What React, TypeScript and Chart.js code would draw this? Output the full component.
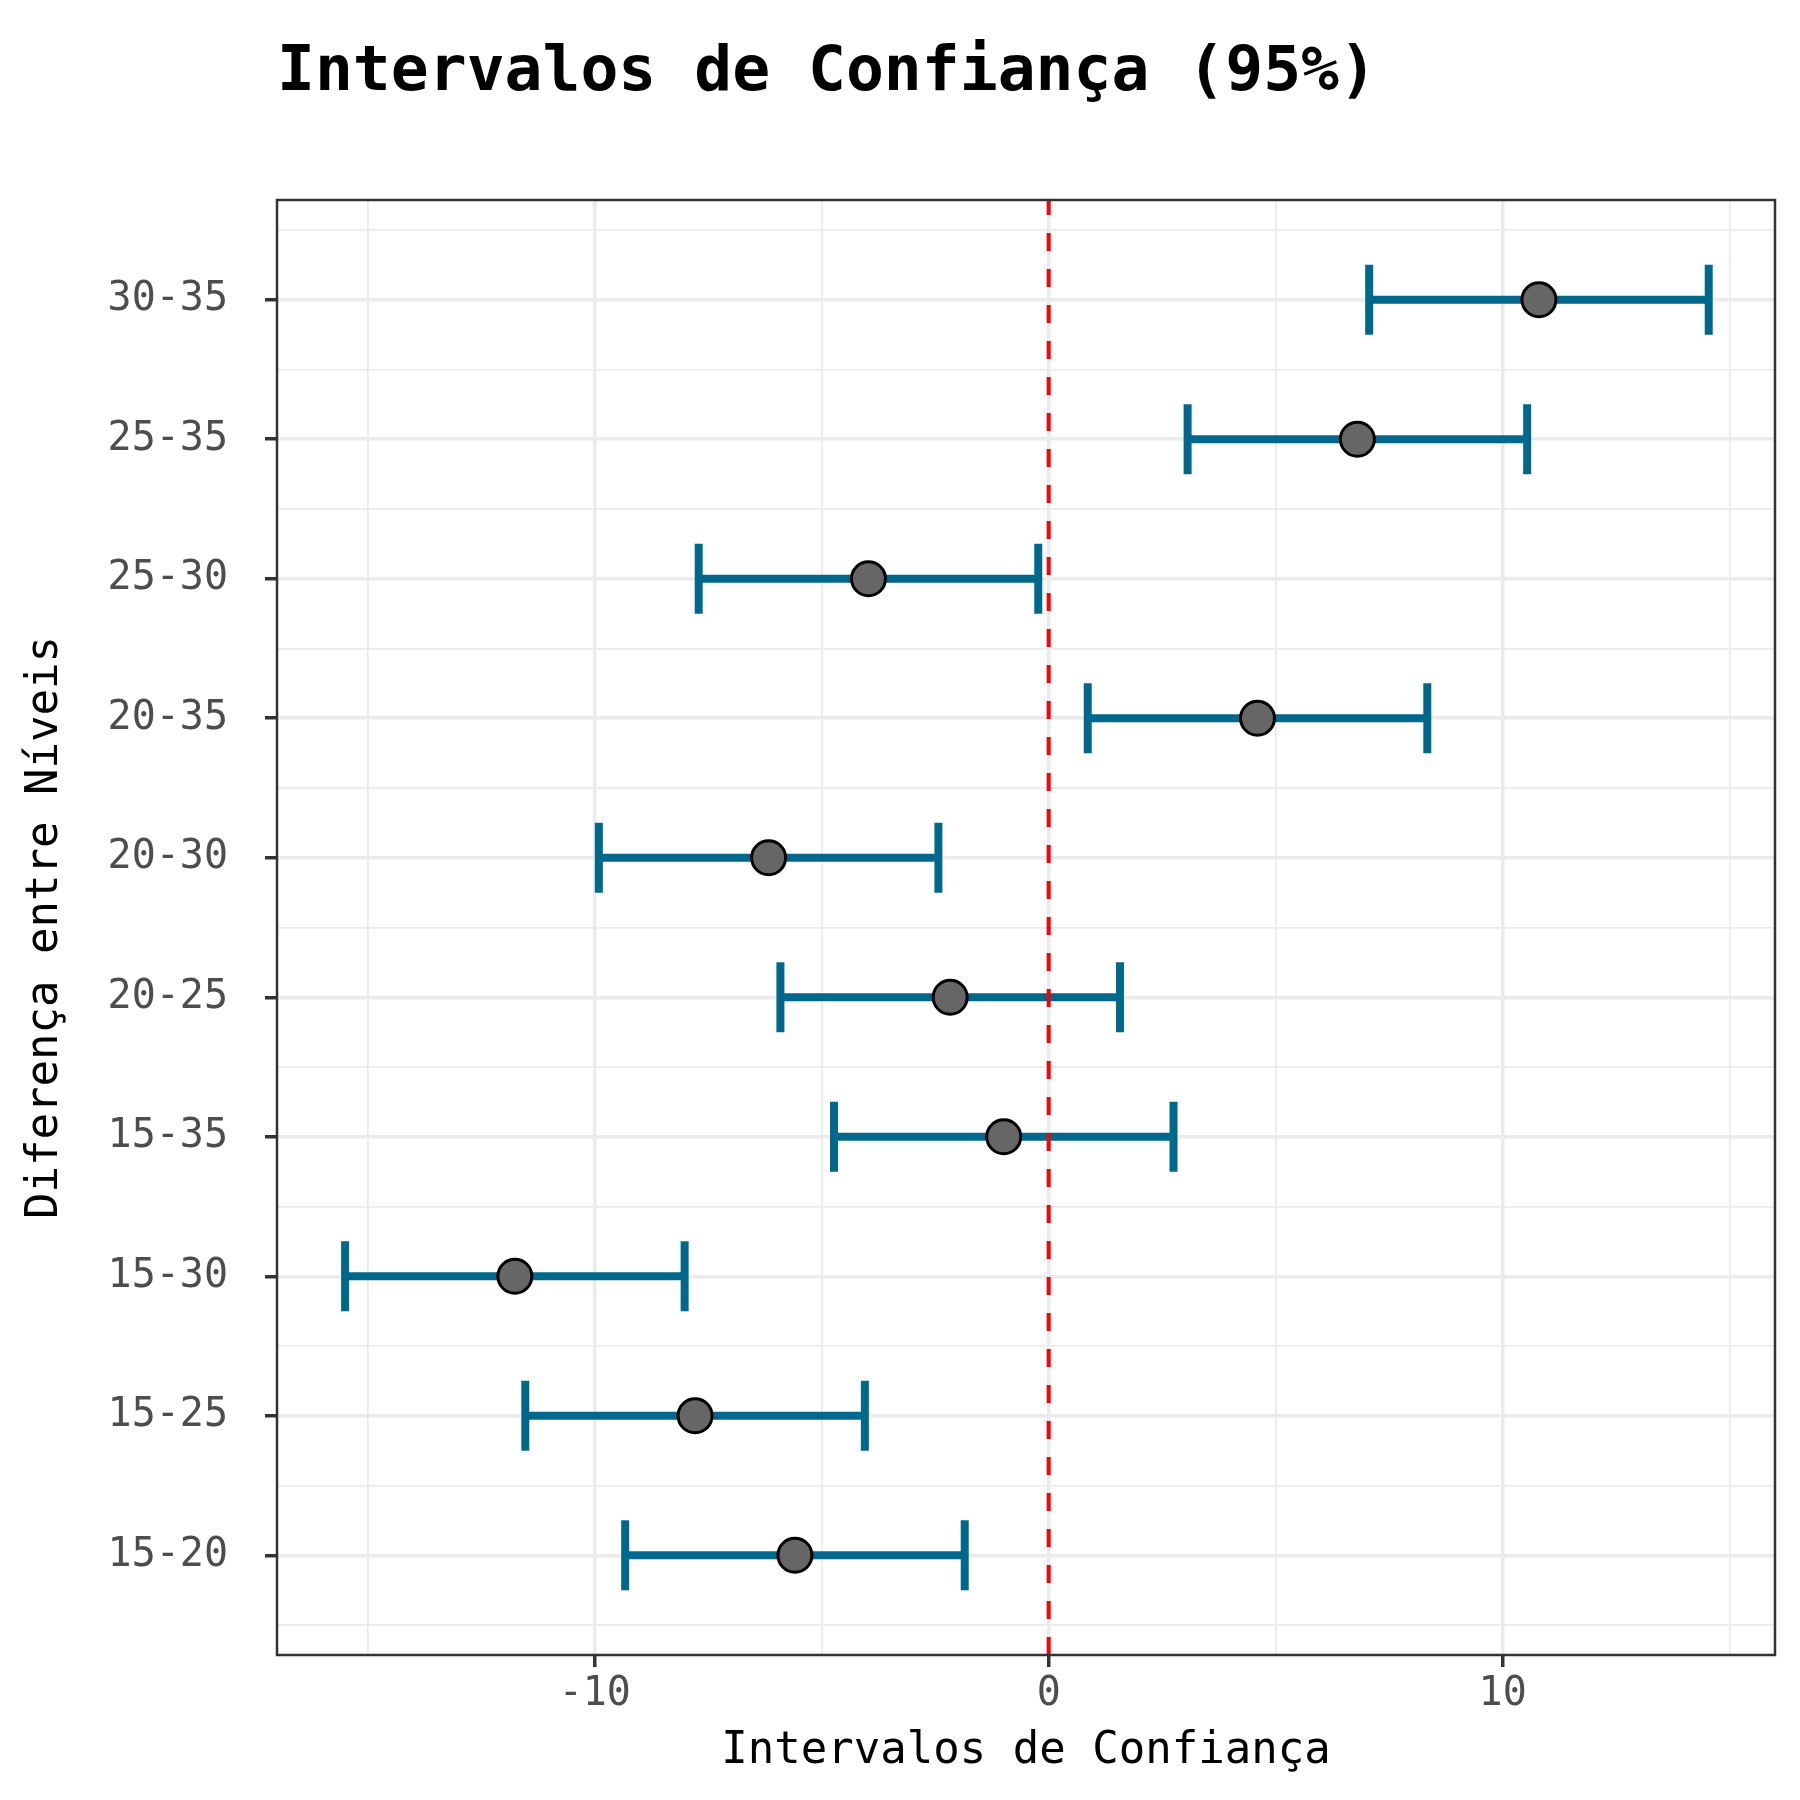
import React, { useEffect, useRef } from "react";
import { Chart, registerables } from "chart.js";

Chart.register(...registerables);

const categories = ["15-20", "15-25", "15-30", "15-35", "20-25", "20-30", "20-35", "25-30", "25-35", "30-35"];
const estimates = [-5.59, -7.79, -11.76, -0.99, -2.17, -6.17, 4.6, -3.97, 6.8, 10.8];
const lowerBounds = [-9.33, -11.53, -15.5, -4.73, -5.91, -9.91, 0.86, -7.71, 3.06, 7.06];
const upperBounds = [-1.85, -4.05, -8.02, 2.75, 1.57, -2.43, 8.34, -0.23, 10.54, 14.54];
const xMajorTicks = [-10, 0, 10];

const FONT = "'DejaVu Sans Mono', monospace";
const BAR_COLOR = "#00688B";

// plot-panel box (layout only)
const PANEL = { left: 277, top: 200, right: 1775, bottom: 1655 };

const panelBorder = {
  id: "panelBorder",
  afterDatasetsDraw(chart: any) {
    const { ctx, chartArea } = chart;
    ctx.save();
    ctx.strokeStyle = "#333333";
    ctx.lineWidth = 2.5;
    ctx.strokeRect(chartArea.left, chartArea.top, chartArea.right - chartArea.left, chartArea.bottom - chartArea.top);
    ctx.restore();
  },
};

export default function App() {
  const ref = useRef<HTMLCanvasElement | null>(null);

  useEffect(() => {
    if (!ref.current) return;
    const yMin = 0.285;
    const yMax = 10.715;

    const errorDatasets = categories.map((c, i) => ({
      type: "line" as const,
      label: c,
      data: [
        { x: lowerBounds[i], y: i + 1 },
        { x: upperBounds[i], y: i + 1 },
      ],
      borderColor: BAR_COLOR,
      borderWidth: 8,
      borderCapStyle: "butt" as const,
      pointStyle: "line" as const,
      pointRotation: 90,
      pointRadius: 35,
      pointHoverRadius: 35,
      pointBorderWidth: 8,
      pointBorderColor: BAR_COLOR,
      pointBackgroundColor: BAR_COLOR,
      fill: false,
    }));

    const chart = new Chart(ref.current, {
      type: "scatter",
      data: {
        datasets: [
          {
            type: "scatter" as const,
            label: "estimate",
            data: estimates.map((v, i) => ({ x: v, y: i + 1 })),
            pointRadius: 17,
            pointHoverRadius: 17,
            backgroundColor: "#666666",
            borderColor: "#000000",
            borderWidth: 3,
          },
          {
            type: "line" as const,
            label: "zero",
            data: [
              { x: 0, y: yMin },
              { x: 0, y: yMax },
            ],
            borderColor: "#FF0000",
            borderWidth: 4,
            borderDash: [18, 18],
            pointRadius: 0,
            fill: false,
          },
          ...errorDatasets,
        ] as any,
      },
      options: {
        animation: false,
        responsive: false,
        devicePixelRatio: 1,
        layout: { autoPadding: false, padding: { left: 0, top: 0, right: 1800 - PANEL.right, bottom: 0 } },
        plugins: {
          legend: { display: false },
          tooltip: { enabled: false },
          title: {
            display: true,
            text: "Intervalos de Confiança (95%)",
            align: "start",
            fullSize: false,
            color: "#000000",
            font: { family: FONT, size: 63, weight: "bold", lineHeight: 1.2 },
            padding: { top: 35.5, bottom: 88.9 },
          },
        },
        scales: {
          x: {
            type: "linear",
            min: -17,
            max: 16,
            border: { display: false },
            grid: {
              color: "#EBEBEB",
              lineWidth: (ctx: any) => (xMajorTicks.includes(ctx.tick?.value) ? 3.5 : 1.8),
              tickColor: (ctx: any) => (xMajorTicks.includes(ctx.tick?.value) ? "#333333" : "rgba(0,0,0,0)"),
              tickWidth: 3.5,
              tickLength: 12,
            },
            ticks: {
              stepSize: 5,
              includeBounds: false,
              autoSkip: false,
              maxRotation: 0,
              padding: 3.5,
              color: "#4D4D4D",
              font: { family: FONT, size: 40 },
              callback: (value: any) => (xMajorTicks.includes(Number(value)) ? String(value) : ""),
            },
            title: {
              display: true,
              text: "Intervalos de Confiança",
              color: "#000000",
              font: { family: FONT, size: 44, lineHeight: 1.2 },
              padding: { top: 0, bottom: 22 },
            },
            afterFit: (scale: any) => {
              scale.height = 1800 - PANEL.bottom;
            },
          },
          y: {
            type: "linear",
            min: yMin,
            max: yMax,
            border: { display: false },
            grid: {
              color: "#EBEBEB",
              lineWidth: (ctx: any) => (Number.isInteger(ctx.tick?.value) ? 3.5 : 1.8),
              tickColor: (ctx: any) => (Number.isInteger(ctx.tick?.value) ? "#333333" : "rgba(0,0,0,0)"),
              tickWidth: 3.5,
              tickLength: 12,
            },
            ticks: {
              stepSize: 0.5,
              includeBounds: false,
              autoSkip: false,
              padding: 37,
              color: "#4D4D4D",
              font: { family: FONT, size: 40 },
              callback: (value: any) => {
                const v = Number(value);
                return Number.isInteger(v) && v >= 1 && v <= categories.length ? categories[v - 1] : "";
              },
            },
            title: {
              display: true,
              text: "Diferença entre Níveis",
              color: "#000000",
              font: { family: FONT, size: 44, lineHeight: 1.2 },
              padding: { top: 19.5, bottom: 0 },
            },
            afterFit: (scale: any) => {
              scale.width = PANEL.left;
            },
          },
        },
      } as any,
      plugins: [panelBorder],
    });

    return () => chart.destroy();
  }, []);

  return (
    <div style={{ position: "absolute", left: 0, top: 0, width: 1800, height: 1800, background: "#ffffff" }}>
      <canvas ref={ref} width={1800} height={1800} style={{ width: 1800, height: 1800, display: "block" }} />
    </div>
  );
}
